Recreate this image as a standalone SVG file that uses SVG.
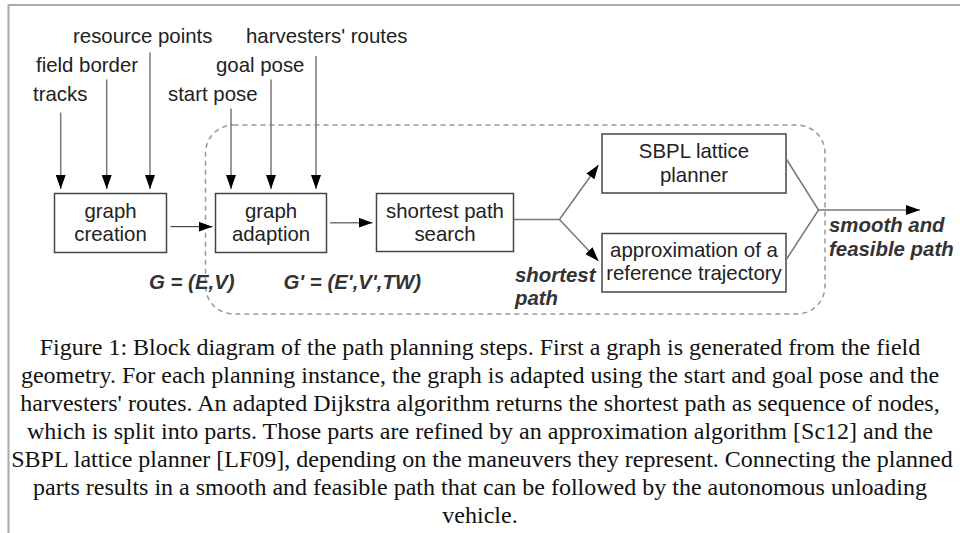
<svg xmlns="http://www.w3.org/2000/svg" width="960" height="533" viewBox="0 0 960 533">
<defs>
<marker id="ah" markerUnits="userSpaceOnUse" markerWidth="15" markerHeight="10" refX="14" refY="5" orient="auto">
<path d="M0,0 L14,5 L0,10 z" fill="#000"/>
</marker>
<style>
.lbl{font-family:"Liberation Sans",Arial,sans-serif;font-size:20.4px;fill:#222}
.node{fill:#fff;stroke:#444;stroke-width:1.5}
.bi{font-family:"Liberation Sans",Arial,sans-serif;font-size:20.4px;font-weight:bold;font-style:italic;fill:#333}
.cap{font-family:"Liberation Serif","Times New Roman",serif;font-size:24px;fill:#111;text-anchor:middle}
.mid{text-anchor:middle}
.in{stroke:#777;stroke-width:1.5;fill:none;marker-end:url(#ah)}
.ln{stroke:#777;stroke-width:1.5;fill:none}
</style>
</defs>
<rect width="960" height="533" fill="#fff"/>
<path d="M8.5,533 V5 H960" fill="none" stroke="#aaa" stroke-width="2"/>
<rect id="region" x="205.5" y="125" width="619.5" height="189" rx="28" ry="28" fill="none" stroke="#999" stroke-width="1.5" stroke-dasharray="5,4"/>

<g id="inputs">
<text class="lbl" x="73" y="42.5">resource points</text>
<text class="lbl" x="246" y="42.5">harvesters' routes</text>
<text class="lbl" x="36" y="71.5">field border</text>
<text class="lbl" x="216" y="71.5">goal pose</text>
<text class="lbl" x="33" y="100.5">tracks</text>
<text class="lbl" x="168" y="100.5">start pose</text>
</g>

<g id="graph-creation">
<rect class="node" x="54.5" y="193.5" width="112" height="59"/>
<text class="lbl mid" x="110.5" y="218">graph</text>
<text class="lbl mid" x="110.5" y="240.5">creation</text>
</g>
<g id="graph-adaption">
<rect class="node" x="215.5" y="193.5" width="111" height="59"/>
<text class="lbl mid" x="271" y="218">graph</text>
<text class="lbl mid" x="271" y="240.5">adaption</text>
</g>
<g id="shortest-path-search">
<rect class="node" x="376.5" y="193.5" width="137" height="58"/>
<text class="lbl mid" x="445" y="218">shortest path</text>
<text class="lbl mid" x="445" y="240.5">search</text>
</g>
<g id="sbpl">
<rect class="node" x="602" y="134" width="184" height="59"/>
<text class="lbl mid" x="694" y="158">SBPL lattice</text>
<text class="lbl mid" x="694" y="181.5">planner</text>
</g>
<g id="approximation">
<rect class="node" x="602" y="233.5" width="184" height="58.5"/>
<text class="lbl mid" x="694" y="257">approximation of a</text>
<text class="lbl mid" x="694" y="280">reference trajectory</text>
</g>

<g id="connectors">
<line class="in" x1="60.7" y1="112.5" x2="60.7" y2="189"/>
<line class="in" x1="106.7" y1="79.5" x2="106.7" y2="189"/>
<line class="in" x1="150" y1="52.5" x2="150" y2="189"/>
<line class="in" x1="231" y1="108.5" x2="231" y2="189"/>
<line class="in" x1="271" y1="79.5" x2="271" y2="189"/>
<line class="in" x1="316" y1="56" x2="316" y2="189"/>
<line class="in" x1="170.5" y1="226.7" x2="212.5" y2="226.7" style="stroke:#222;stroke-width:1"/>
<line class="in" x1="330" y1="222.7" x2="372.5" y2="222.7"/>
<path class="ln" d="M513.5,219.5 H559.5"/>
<line class="in" x1="559.5" y1="219.5" x2="598.5" y2="165"/>
<line class="in" x1="559.5" y1="219.5" x2="598.5" y2="261"/>
<path class="ln" d="M786,158.5 L818.5,210 L786,260"/>
<line class="in" x1="818.5" y1="210" x2="920" y2="210"/>
</g>

<g id="labels">
<text class="bi" x="149" y="288.5">G = (E,V)</text>
<text class="bi" x="283.5" y="288.5">G' = (E',V',TW)</text>
<text class="bi" x="515" y="281.5">shortest</text>
<text class="bi" x="515" y="305">path</text>
<text class="bi" x="829" y="231.5">smooth and</text>
<text class="bi" x="829" y="256">feasible path</text>
</g>

<g id="caption">
<text class="cap" x="480" y="355">Figure 1: Block diagram of the path planning steps. First a graph is generated from the field</text>
<text class="cap" x="480" y="383">geometry. For each planning instance, the graph is adapted using the start and goal pose and the</text>
<text class="cap" x="480" y="411">harvesters' routes. An adapted Dijkstra algorithm returns the shortest path as sequence of nodes,</text>
<text class="cap" x="480" y="439">which is split into parts. Those parts are refined by an approximation algorithm [Sc12] and the</text>
<text class="cap" x="482" y="467">SBPL lattice planner [LF09], depending on the maneuvers they represent. Connecting the planned</text>
<text class="cap" x="480" y="495">parts results in a smooth and feasible path that can be followed by the autonomous unloading</text>
<text class="cap" x="480" y="523">vehicle.</text>
</g>
</svg>
